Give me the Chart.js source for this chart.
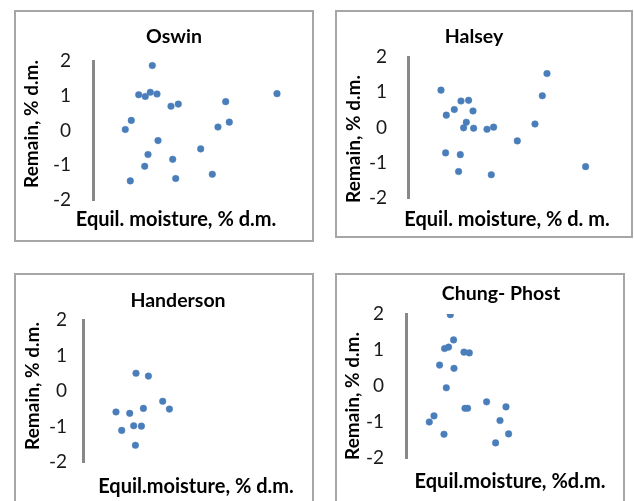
<!DOCTYPE html>
<html>
<head>
<meta charset="utf-8">
<script src="https://cdn.jsdelivr.net/npm/chart.js@4.4.1/dist/chart.umd.min.js"></script>
<style>
  html, body { margin: 0; padding: 0; background: #fff; width: 634px; height: 501px; overflow: hidden; }
  .panel { position: absolute; box-sizing: border-box; border: 2px solid #a6a6a6; }
  .panel canvas { position: absolute; left: -2px; top: -2px; }
</style>
</head>
<body>
<div class="panel" style="left:14px;top:10px;width:300px;height:232px"><canvas id="c1" width="300" height="232"></canvas></div>
<div class="panel" style="left:335px;top:10px;width:298px;height:228px"><canvas id="c2" width="298" height="228"></canvas></div>
<div class="panel" style="left:14px;top:273px;width:300px;height:237px"><canvas id="c3" width="300" height="237"></canvas></div>
<div class="panel" style="left:335px;top:273px;width:290px;height:237px"><canvas id="c4" width="290" height="237"></canvas></div>
<script>
// values (x has no scale in the original, so it is in plot units)
const oswinX = [5.93, 4.57, 5.23, 5.73, 6.4, 7.8, 8.53, 13.27, 18.4, 3.83, 3.23, 6.5, 12.5, 13.63, 10.77, 5.5, 7.97, 5.17, 3.73, 8.27, 11.93]
const oswinY = [1.87, 1.03, 0.98, 1.10, 1.05, 0.70, 0.76, 0.83, 1.06, 0.29, 0.03, -0.29, 0.10, 0.24, -0.53, -0.69, -0.83, -1.03, -1.45, -1.38, -1.26]

const halseyX = [3.3, 13.9, 13.43, 5.3, 6.06, 4.63, 6.5, 3.83, 5.83, 5.56, 6.56, 7.9, 8.56, 12.7, 10.93, 3.76, 5.23, 5.06, 8.33, 17.76]
const halseyY = [1.06, 1.53, 0.90, 0.75, 0.77, 0.51, 0.47, 0.35, 0.15, -0.01, -0.02, -0.05, 0.01, 0.10, -0.38, -0.72, -0.77, -1.25, -1.34, -1.11]

const handersonX = [5.3, 6.54, 7.97, 8.64, 6.04, 3.3, 4.67, 5.07, 5.84, 3.87, 5.24]
const handersonY = [0.50, 0.42, -0.29, -0.51, -0.49, -0.59, -0.63, -0.98, -0.99, -1.11, -1.53]

const chungX = [4.43, 4.76, 3.86, 4.26, 5.8, 6.33, 3.36, 4.8, 4.03, 8.06, 10.0, 5.9, 6.16, 2.8, 2.33, 9.4, 3.8, 10.26, 8.96]
const chungY = [1.98, 1.28, 1.04, 1.08, 0.94, 0.92, 0.58, 0.49, -0.05, -0.44, -0.58, -0.62, -0.62, -0.83, -1.00, -0.96, -1.34, -1.33, -1.58]

const yTicks = [-2, -1, 0, 1, 2]
const titles = ["Oswin", "Halsey", "Handerson", "Chung- Phost"]
const xTitles = ["Equil. moisture, % d.m.", "Equil. moisture, % d. m.", "Equil.moisture, % d.m.", "Equil.moisture, %d.m."]
const yTitle = "Remain, % d.m."

const dotColor = "#4a7ebb"
const fontName = "Lato"

// title + axis names sit at fixed spots, like the excel layout
const panelText = {
  id: "panelText",
  afterDraw(chart, args, opts) {
    const ctx = chart.ctx
    ctx.save()
    ctx.fillStyle = "#000"
    ctx.textAlign = "center"
    ctx.textBaseline = "middle"
    ctx.font = `bold 19.5px ${fontName}`
    ctx.fillText(opts.title, opts.titlePos[0], opts.titlePos[1])
    ctx.font = `bold 20px ${fontName}`
    ctx.fillText(opts.xTitle, opts.xTitlePos[0], opts.xTitlePos[1])
    ctx.font = `bold 19px ${fontName}`
    ctx.translate(opts.yTitlePos[0], opts.yTitlePos[1])
    ctx.rotate(-Math.PI / 2)
    ctx.fillText(opts.yTitle, 0, 0)
    ctx.restore()
  }
}

const panels = [
  { id: "c1", xs: oswinX, ys: oswinY, xMax: 21, pad: { left: 0, top: 51, right: 11, bottom: 42 }, axisW: 79, tickPad: 22, titlePos: [160, 27], xTitlePos: [162, 210], yTitlePos: [18, 114] },
  { id: "c2", xs: halseyX, ys: halseyY, xMax: 19, pad: { left: 0, top: 47, right: 35, bottom: 40 }, axisW: 73, tickPad: 21, titlePos: [139, 27], xTitlePos: [172, 210], yTitlePos: [19, 129] },
  { id: "c3", xs: handersonX, ys: handersonY, xMax: 21, pad: { left: 0, top: 47, right: 21, bottom: 48 }, axisW: 69, tickPad: 16, titlePos: [164, 28], xTitlePos: [182, 214], yTitlePos: [19, 113] },
  { id: "c4", xs: chungX, ys: chungY, xMax: 19, pad: { left: 0, top: 41, right: 29, bottom: 52 }, axisW: 71, tickPad: 22, titlePos: [166, 21], xTitlePos: [175, 209], yTitlePos: [18, 123] },
]

panels.forEach((p, i) => {
  new Chart(document.getElementById(p.id), {
    type: "scatter",
    data: {
      datasets: [{
        data: p.xs.map((x, k) => ({ x: x, y: p.ys[k] })),
        backgroundColor: dotColor,
        borderColor: dotColor,
        borderWidth: 0.5,
        pointRadius: 3.3,
      }]
    },
    options: {
      responsive: false,
      animation: false,
      devicePixelRatio: 1,
      layout: { padding: p.pad },
      plugins: {
        legend: { display: false },
        tooltip: { enabled: false },
        panelText: { title: titles[i], xTitle: xTitles[i], yTitle: yTitle, titlePos: p.titlePos, xTitlePos: p.xTitlePos, yTitlePos: p.yTitlePos },
      },
      scales: {
        x: { type: "linear", display: false, min: 0, max: p.xMax },
        y: {
          min: yTicks[0],
          max: yTicks[yTicks.length - 1],
          afterBuildTicks: (scale) => { scale.ticks = yTicks.map(v => ({ value: v })) },
          afterFit: (scale) => { scale.width = p.axisW },
          grid: { display: false, drawTicks: false },
          border: { display: true, color: "#888888", width: 3 },
          ticks: { padding: p.tickPad, color: "#1a1a1a", font: { family: fontName, size: 19 } },
        }
      }
    },
    plugins: [panelText]
  })
})
</script>
</body>
</html>
